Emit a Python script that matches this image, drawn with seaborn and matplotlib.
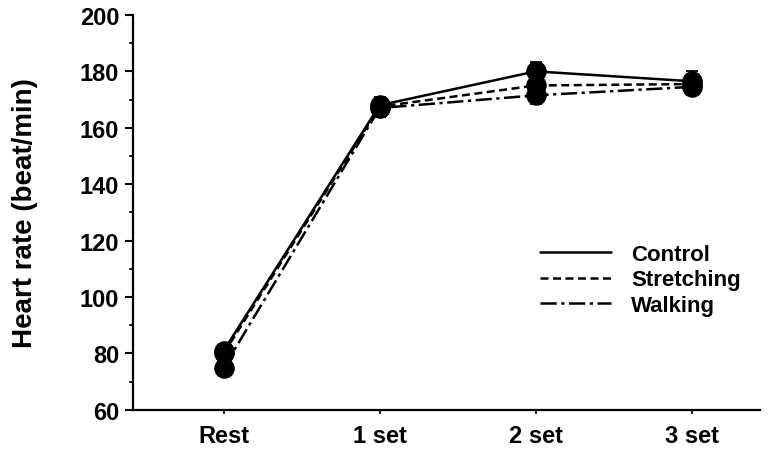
import numpy as np
import pandas as pd
import matplotlib
matplotlib.use("Agg")
import matplotlib.pyplot as plt
from matplotlib.lines import Line2D
from matplotlib.ticker import MultipleLocator
import seaborn as sns

# Data
stages = ["Rest", "1 set", "2 set", "3 set"]
control = [81, 168, 180, 176.5]
stretching = [80, 167.5, 175, 175.5]
walking = [75, 167, 171.5, 174.5]
control_err = [2, 3, 3.5, 3.5]
stretching_err = [2, 3, 3, 3]
walking_err = [2, 3, 3, 3]

groups = ["Control", "Stretching", "Walking"]
df = pd.DataFrame({
    "stage": stages * 3,
    "hr": control + stretching + walking,
    "err": control_err + stretching_err + walking_err,
    "group": np.repeat(groups, len(stages)),
})

sns.set_style("ticks")
plt.rcParams["font.family"] = ["Liberation Sans", "DejaVu Sans"]
plt.rcParams["font.weight"] = "bold"
for key in ["text.color", "axes.labelcolor", "xtick.color", "ytick.color", "axes.edgecolor"]:
    plt.rcParams[key] = "black"

fig = plt.figure(figsize=(7.79, 4.56), dpi=100)
ax = fig.add_axes([0.171, 0.099, 0.805, 0.866])

lw = 1.8
dash_map = {"Control": "", "Stretching": (3.2, 1.8), "Walking": (6.5, 1.8, 1.3, 1.8)}
sns.lineplot(data=df, x="stage", y="hr", hue="group", style="group",
             palette=["black"] * 3, dashes=dash_map, markers=["o"] * 3,
             markersize=14, markeredgecolor="black", linewidth=lw,
             legend=False, ax=ax, sort=False)

# error bars (SEM)
for g in groups:
    sub = df[df["group"] == g]
    ax.errorbar(np.arange(len(stages)), sub["hr"], yerr=sub["err"], fmt="none",
                ecolor="black", elinewidth=1.3, capsize=4.5, capthick=1.3, zorder=1)

ax.set_xlim(-0.58, 3.44)
ax.set_ylim(60, 200)
ax.yaxis.set_major_locator(MultipleLocator(20))
ax.yaxis.set_minor_locator(MultipleLocator(10))
ax.tick_params(axis="y", which="major", length=6, width=1.5, labelsize=17, pad=4)
ax.tick_params(axis="y", which="minor", length=3, width=1.2)
ax.tick_params(axis="x", length=3, width=1.2, labelsize=17, pad=7)
for lbl in ax.get_xticklabels() + ax.get_yticklabels():
    lbl.set_fontweight("bold")
ax.set_xlabel("")
ax.set_ylabel("Heart rate (beat/min)", fontsize=20, fontweight="bold")
ax.yaxis.set_label_coords(-0.152, 0.5)
for s in ["left", "bottom"]:
    ax.spines[s].set_linewidth(1.6)
sns.despine(ax=ax)

handles = [Line2D([], [], color="black", lw=lw, linestyle="-"),
           Line2D([], [], color="black", lw=lw, dashes=(3.2, 1.8)),
           Line2D([], [], color="black", lw=lw, dashes=(6.5, 1.8, 1.3, 1.8))]
ax.legend(handles, groups, loc="upper left", bbox_to_anchor=(0.649, 0.42),
          frameon=False, handlelength=3.2, handletextpad=0.9,
          borderpad=0, borderaxespad=0,
          prop={"weight": "bold", "size": 16}, labelspacing=0.2)

fig.savefig("out.png", dpi=100)
